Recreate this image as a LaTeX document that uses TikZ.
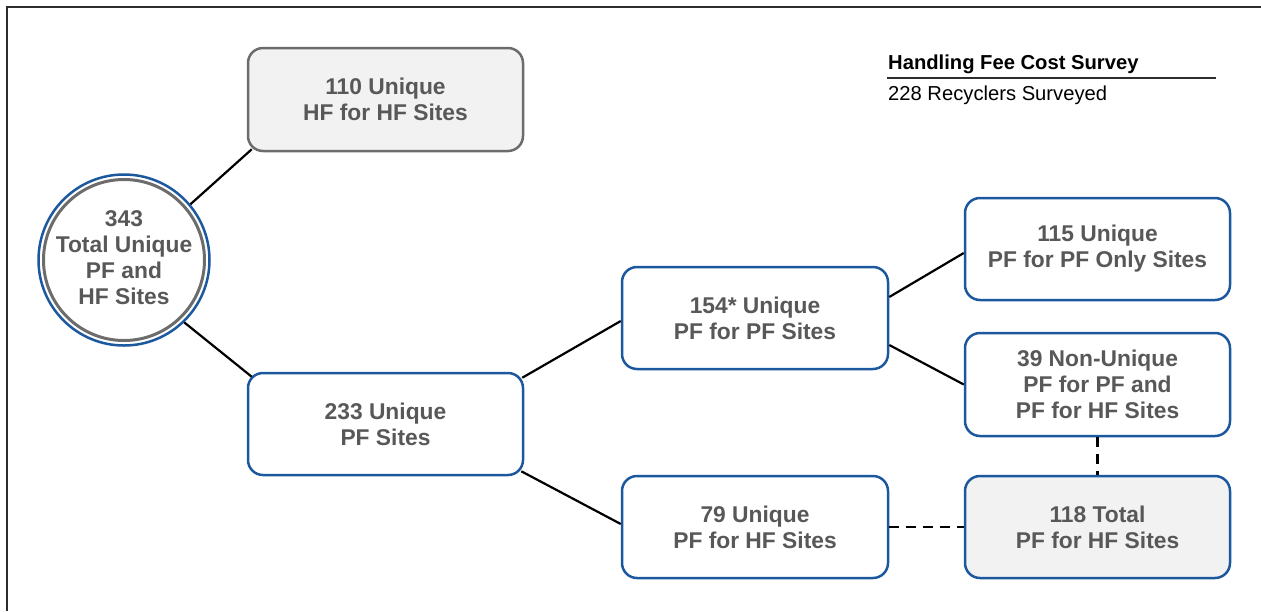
\documentclass[tikz,border=0pt]{standalone}
\usepackage{fontspec}
\setmainfont{Liberation Sans}
\usetikzlibrary{calc}
\definecolor{bblue}{RGB}{28,88,158}
\definecolor{bgray}{RGB}{108,108,108}
\definecolor{bfill}{RGB}{242,242,242}
\definecolor{txt}{RGB}{88,88,88}
\definecolor{frame}{RGB}{45,45,45}
\tikzset{
  boxfont/.style={font=\fontsize{22.8}{26}\selectfont\bfseries, text=txt},
  box/.style={draw=bblue, line width=2.5pt, rounded corners=15pt, fill=white,
    inner sep=0pt, align=center, boxfont},
  graybox/.style={box, draw=bgray, fill=bfill},
  fillbox/.style={box, fill=bfill},
  conn/.style={draw=black, line width=2.2pt},
  dconn/.style={conn, dash pattern=on 10pt off 7pt},
}
\begin{document}
\begin{tikzpicture}[x=1pt,y=-1pt]
\useasboundingbox (0,0) rectangle (1261,611);
% frame
\draw[frame, line width=1.5pt] (7,611) -- (7,7) -- (1261,7);
% header
\node[anchor=base west, inner sep=0pt, font=\fontsize{20.2}{23}\selectfont\bfseries] (title) at (888,69) {Handling Fee Cost Survey};
\coordinate (ul1) at (887,78);
\coordinate (ul2) at (1216,78);
\draw[frame, line width=2pt] (ul1) -- (ul2);
\node[anchor=base west, inner sep=0pt, font=\fontsize{20.2}{23}\selectfont] (sub) at (888,100) {228 Recyclers Surveyed};
% circle
\node[circle, draw=bblue, line width=2.5pt, minimum size=171pt, inner sep=0pt] (c) at (124,260) {};
\draw[bgray, line width=3pt] (c.center) circle (80.5);
\node[align=center, boxfont, inner sep=0pt] (ctext) at ($(c.center)+(0,-2)$) {343\\Total Unique\\PF and\\HF Sites};
% boxes
\node[graybox, minimum width=275pt, minimum height=103pt] (b110) at (385.5,99.5) {110 Unique\\HF for HF Sites};
\node[box, minimum width=275pt, minimum height=102pt] (b233) at (385.5,424) {233 Unique\\PF Sites};
\node[box, minimum width=266pt, minimum height=102pt] (b154) at (755,318) {154* Unique\\PF for PF Sites};
\node[box, minimum width=266pt, minimum height=102pt] (b79) at (755,527) {79 Unique\\PF for HF Sites};
\node[box, minimum width=265pt, minimum height=102pt] (b115) at (1097.5,249) {115 Unique\\PF for PF Only Sites};
\node[box, minimum width=265pt, minimum height=103pt] (b39) at (1097.5,384.5) {39 Non-Unique\\PF for PF and\\PF for HF Sites};
\node[fillbox, minimum width=265pt, minimum height=102pt] (b118) at (1097.5,527) {118 Total\\PF for HF Sites};
% connectors
\draw[conn] (c.40) -- ($(b110.south west)+(5,-3)$);
\draw[conn] (c.-46) -- ($(b233.north west)+(5,5)$);
\draw[conn] ($(b233.north east)+(-2,6)$) -- ($(b154.west)+(0,3)$);
\draw[conn] ($(b233.south east)+(-3,-5)$) -- ($(b79.west)+(0,-3)$);
\draw[conn] ($(b154.east)+(0,-21)$) -- ($(b115.west)+(0,4)$);
\draw[conn] ($(b154.east)+(0,27)$) -- (b39.west);
\draw[dconn] (b79.east) -- (b118.west);
\draw[dconn] (b39.south) -- (b118.north);
\end{tikzpicture}
\end{document}
